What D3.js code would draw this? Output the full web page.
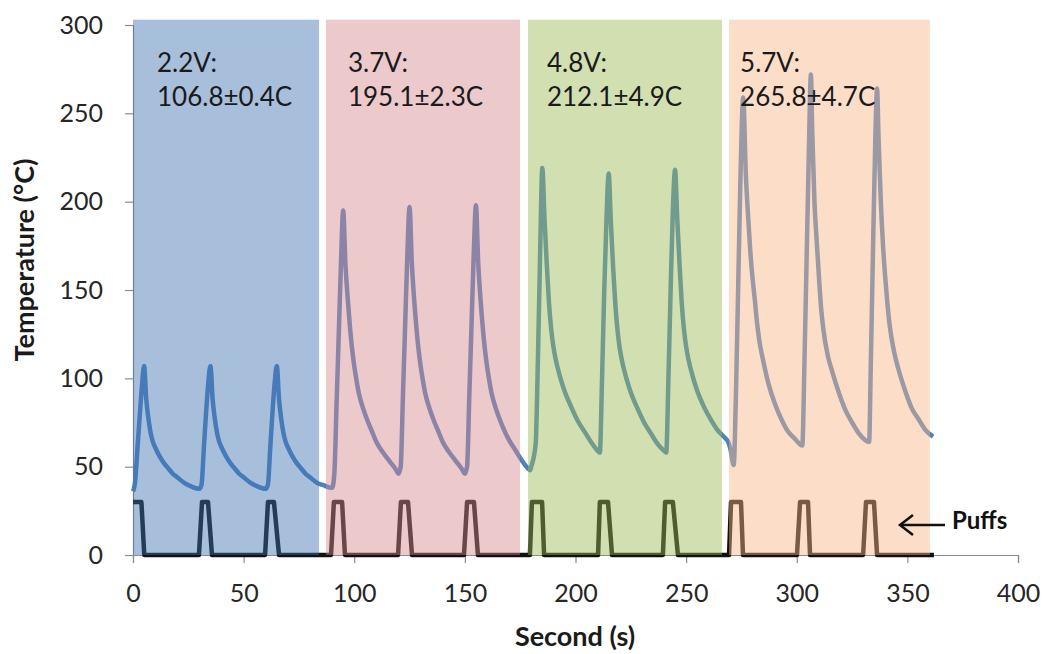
<!DOCTYPE html>
<html>
<head>
<meta charset="utf-8">
<script src="https://cdn.jsdelivr.net/npm/d3@7"></script>
<style>
  body { margin: 0; background: #fff; }
  svg { font-family: Lato, "Open Sans", sans-serif; }
</style>
</head>
<body>
<div id="chart"></div>
<script>
// temperature trace, [second, °C]
const tempBlue = [
  [0, 36], [1, 42], [2, 60], [3, 78], [4, 95], [5, 107], [6, 88], [7, 77], [8, 69], [9, 64], [10, 61],
  [12, 56], [14, 52], [16, 49], [18, 46], [20, 44], [23, 41], [26, 39], [30, 37.5],
  [31, 40], [32, 60], [33, 80], [34, 97], [35, 107], [36, 88], [37, 77], [38, 69], [39, 64], [40, 61],
  [42, 56], [44, 52], [46, 49], [48, 46], [50, 44], [53, 41], [56, 39], [60, 37.5],
  [61, 40], [62, 60], [63, 80], [64, 97], [65, 107], [66, 88], [67, 77], [68, 69], [69, 64], [70, 61],
  [72, 56], [74, 52], [76, 49], [78, 46], [80, 44], [83, 41], [86, 39.5], [90, 38]
]
const tempPink = [
  [91, 46], [92, 85], [93, 125], [94, 165], [95, 195], [96, 165], [97, 146], [98, 130], [99, 117], [100, 107],
  [101, 99], [102, 92], [104, 83], [106, 76], [108, 70], [110, 64], [113, 58], [116, 53], [119, 48], [120, 46],
  [121, 50], [122, 90], [123, 130], [124, 170], [125, 197], [126, 166], [127, 146], [128, 130], [129, 117], [130, 107],
  [131, 99], [132, 92], [134, 83], [136, 76], [138, 70], [140, 64], [143, 58], [146, 53], [149, 48], [150, 46],
  [151, 50], [152, 90], [153, 130], [154, 170], [155, 198], [156, 166], [157, 146], [158, 130], [159, 117], [160, 107],
  [161, 99], [162, 92], [164, 83], [166, 76], [168, 70], [170, 65], [173, 59], [176, 53], [178.5, 49], [179.5, 48]
]
const tempGreen = [
  [180, 50], [182, 63], [183, 110], [184, 170], [185, 219], [186, 190], [187, 165], [188, 143], [189, 128], [190, 118],
  [191, 111], [193, 101], [195, 93], [198, 84], [201, 76], [204, 70], [207, 64], [210, 59], [211, 58],
  [212, 100], [213, 150], [214, 190], [215, 216], [216, 188], [217, 163], [218, 142], [219, 127], [220, 117],
  [221, 110], [223, 100], [225, 92], [228, 83], [231, 75], [234, 69], [237, 63], [240, 59], [241, 58],
  [242, 100], [243, 150], [244, 195], [245, 218], [246, 190], [247, 165], [248, 143], [249, 128], [250, 118],
  [251, 111], [253, 101], [255, 93], [258, 84], [261, 77], [264, 71], [267, 67], [269, 64]
]
const tempOrange = [
  [270, 60], [271.5, 51], [272.5, 90], [273.5, 150], [274.5, 210], [275.8, 259], [277, 215], [278, 192], [279, 172],
  [280, 157], [281, 145], [282, 132], [283, 122], [285, 109], [287, 98], [290, 86], [293, 77], [296, 70], [299, 66], [302.5, 62],
  [303.5, 110], [304.5, 170], [305.5, 230], [306.4, 272], [307, 240], [308, 200], [309, 178], [310, 158], [311, 140],
  [312, 128], [314, 113], [316, 104], [319, 92], [322, 82], [325, 75], [328, 69], [331, 65], [332.7, 64],
  [333.5, 110], [334.5, 175], [335.5, 235], [336.3, 264], [337, 235], [338, 200], [339, 175], [340, 157], [341, 142],
  [342, 130], [344, 115], [346, 105], [349, 93], [352, 83], [355, 77], [358, 71], [361.6, 67]
]
const temperature = tempBlue.concat(tempPink, tempGreen, tempOrange)

// puff signal, [second, level]
const puffs = [
  [0, 30], [3.8, 30], [5.1, 0], [29.8, 0], [31.2, 30], [33.9, 30], [35.7, 0],
  [59.7, 0], [61, 30], [63.7, 30], [66, 0], [89.5, 0], [90.8, 30], [94.5, 30], [95.8, 0],
  [119.8, 0], [121.1, 30], [124.3, 30], [126.1, 0], [149.6, 0], [151, 30], [154.1, 30], [155.9, 0],
  [179.4, 0], [180.3, 30], [184.9, 30], [185.8, 0], [210.2, 0], [211, 30], [214.7, 30], [216.5, 0],
  [239.5, 0], [240.5, 30], [244, 30], [246.3, 0], [269.4, 0], [270.3, 30], [274.8, 30], [275.7, 0],
  [300.1, 0], [301.5, 30], [305.1, 30], [306, 0], [330, 0], [331.3, 30], [334.9, 30], [336.3, 0], [362, 0]
]

// voltage bands
const bandStart = [0, 87.2, 178.5, 269.4]
const bandEnd = [84.1, 174.9, 266.2, 360.2]
const bandTop = 303
const bandVoltage = ['2.2V:', '3.7V:', '4.8V:', '5.7V:']
const bandMean = ['106.8±0.4C', '195.1±2.3C', '212.1±4.9C', '265.8±4.7C']
const bandColors = ['#3e71b1', '#d58789', '#9bba51', '#f8b685']

const xTicks = [0, 50, 100, 150, 200, 250, 300, 350, 400]
const yTicks = [0, 50, 100, 150, 200, 250, 300]

const width = 1046
const height = 654
const svg = d3.select('#chart').append('svg').attr('width', width).attr('height', height)

const x = d3.scaleLinear().domain([0, 400]).range([133, 1018])
const y = d3.scaleLinear().domain([0, 300]).range([555, 25])

// axes
const xAxis = svg.append('g').attr('transform', 'translate(0,555)')
  .call(d3.axisBottom(x).tickValues(xTicks).tickSize(8).tickPadding(21))
const yAxis = svg.append('g').attr('transform', 'translate(133,0)')
  .call(d3.axisLeft(y).tickValues(yTicks).tickSize(8).tickPadding(22))
;[xAxis, yAxis].forEach(function (g) {
  g.select('.domain').attr('stroke', '#8c8c8c').attr('stroke-width', 1.2)
  g.selectAll('.tick line').attr('stroke', '#8c8c8c').attr('stroke-width', 1.2)
  g.selectAll('.tick text').attr('font-size', 25).attr('fill', '#262626')
    .attr('font-family', 'Lato, sans-serif')
})

// lines
const line = d3.line().x(d => x(d[0])).y(d => y(d[1]))
svg.append('path').datum(temperature)
  .attr('d', line.curve(d3.curveMonotoneX))
  .attr('fill', 'none').attr('stroke', '#4f81bd').attr('stroke-width', 4.5)
  .attr('stroke-linejoin', 'round')
svg.append('path').datum(puffs)
  .attr('d', d3.line().x(d => x(d[0])).y(d => y(d[1])))
  .attr('fill', 'none').attr('stroke', '#111').attr('stroke-width', 4.5)
  .attr('stroke-linejoin', 'round')

// translucent bands on top, tinting the lines underneath
svg.selectAll('rect.band')
  .data(bandStart)
  .enter()
  .append('rect')
  .attr('class', 'band')
  .attr('x', (d, i) => x(d))
  .attr('width', (d, i) => x(bandEnd[i]) - x(d))
  .attr('y', y(bandTop))
  .attr('height', y(0) - y(bandTop))
  .attr('fill', (d, i) => bandColors[i])
  .attr('fill-opacity', 0.45)

// band labels
const labelOffset = [24, 22, 19, 11]
svg.selectAll('text.volt')
  .data(bandVoltage)
  .enter()
  .append('text')
  .attr('class', 'volt')
  .attr('x', (d, i) => x(bandStart[i]) + labelOffset[i])
  .attr('y', 72)
  .attr('font-size', 26).attr('fill', '#1a1a1a')
  .text(d => d)
svg.selectAll('text.mean')
  .data(bandMean)
  .enter()
  .append('text')
  .attr('class', 'mean')
  .attr('x', (d, i) => x(bandStart[i]) + labelOffset[i])
  .attr('y', 106)
  .attr('font-size', 26).attr('fill', '#1a1a1a')
  .text(d => d)

// Puffs marker
svg.append('line')
  .attr('x1', 945).attr('x2', 901).attr('y1', 525).attr('y2', 525)
  .attr('stroke', '#111').attr('stroke-width', 2.5)
svg.append('path')
  .attr('d', 'M913,515 L900,525 L913,535')
  .attr('fill', 'none').attr('stroke', '#111').attr('stroke-width', 2.5)
svg.append('text')
  .attr('x', 952).attr('y', 529)
  .attr('font-size', 24).attr('font-weight', 'bold').attr('fill', '#111')
  .text('Puffs')

// axis titles
svg.append('text')
  .attr('x', 575).attr('y', 646)
  .attr('text-anchor', 'middle')
  .attr('font-size', 27).attr('font-weight', 'bold').attr('fill', '#1a1a1a')
  .text('Second (s)')
svg.append('text')
  .attr('transform', 'translate(34,260) rotate(-90)')
  .attr('text-anchor', 'middle')
  .attr('font-size', 27).attr('font-weight', 'bold').attr('fill', '#1a1a1a')
  .text('Temperature (°C)')
</script>
</body>
</html>
